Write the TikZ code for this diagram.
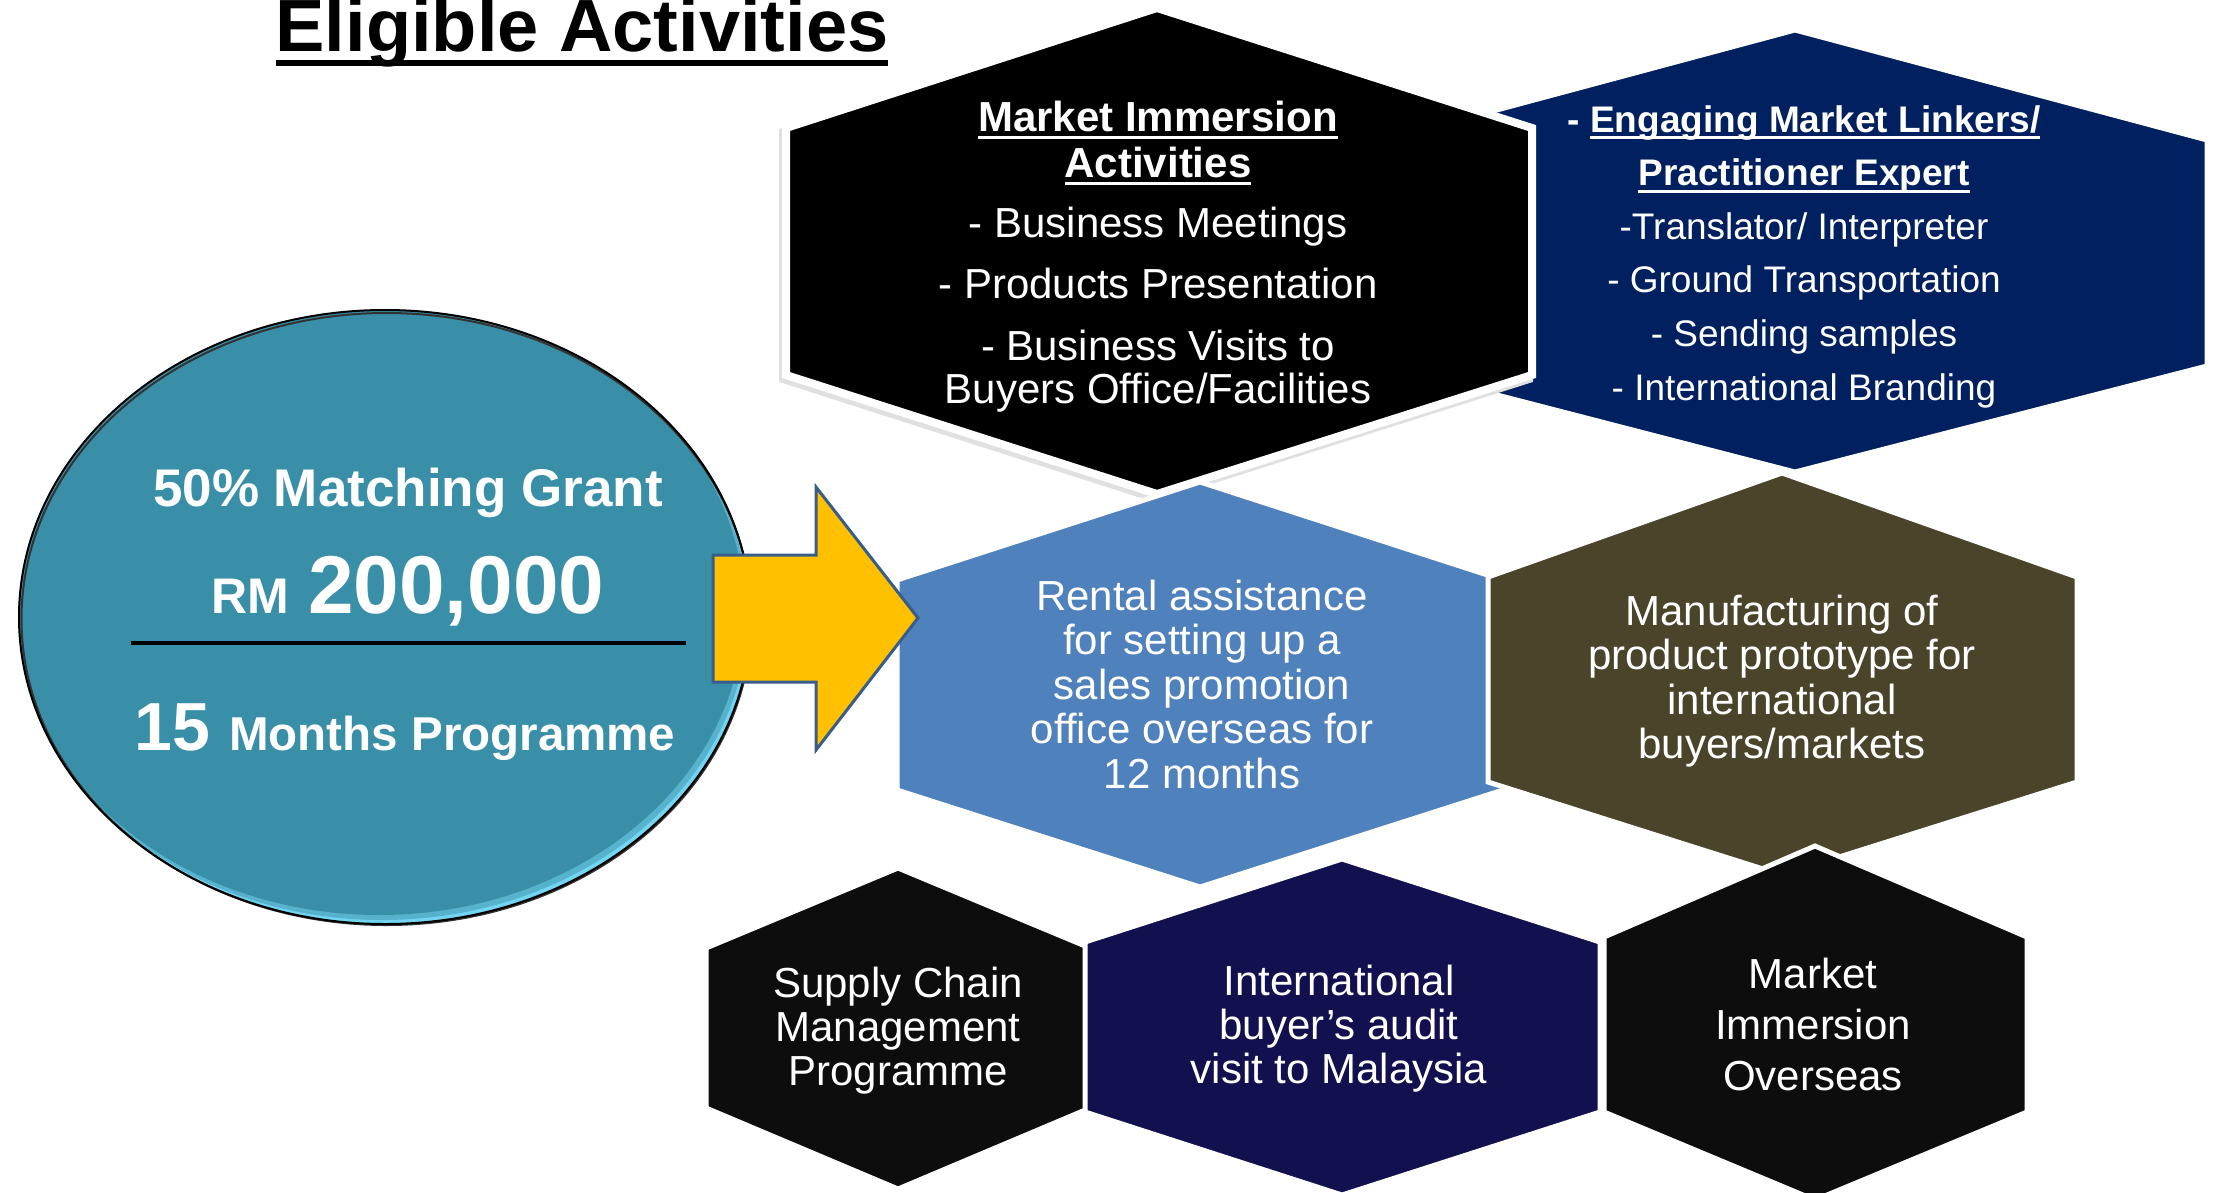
\documentclass[tikz,border=0pt]{standalone}
\usepackage{fontspec}
\setmainfont{Liberation Sans}

\definecolor{grantteal}{HTML}{3A8FA8}
\definecolor{grantglow}{HTML}{72D6F2}
\definecolor{linkernavy}{HTML}{002060}
\definecolor{rentalblue}{HTML}{4F81BD}
\definecolor{protoolive}{HTML}{4A452A}
\definecolor{nearblack}{HTML}{0D0D0D}
\definecolor{auditnavy}{HTML}{12104E}
\definecolor{arrowgold}{HTML}{FFC000}
\definecolor{arrowedge}{HTML}{385D8A}

% underline drawn as a rule whose size follows the current font
\newcommand\ulin[1]{\setbox0\hbox{#1}\rlap{\rule[-0.2em]{\wd0}{0.08em}}\box0}

% a column of centred lines, one node per line, given first baseline and step
\newcommand\stacklines[6]{%
  \foreach \tline [count=\k from 0] in {#6}{%
    \node[hextext,#2] (#1-\k) at (#3,{#4+\k*#5}) {\tline};}}

\tikzset{
  hexface/.style={draw=white, line width=5pt, line join=miter},
  hextext/.style={text=white, inner sep=0pt, anchor=base,
                  font=\fontsize{42}{44}\selectfont},
  granttext/.style={text=white, inner sep=0pt, anchor=base, font=\bfseries},
}

\begin{document}
\begin{tikzpicture}[x=1pt, y=-1pt]
\useasboundingbox (0,0) rectangle (2215,1192);
\fill[white] (0,0) rectangle (2215,1192);

% title
\node[anchor=base, inner sep=0pt, font=\bfseries\fontsize{74}{80}\selectfont]
  (title) at (582,51) {\ulin{Eligible Activities}};

% grant ellipse with a soft glow along the lower right rim
\begin{scope}
  \clip (385,617) ellipse [x radius=366, y radius=307];
  \fill[grantglow] (385,617) ellipse [x radius=366, y radius=307];
  \fill[grantglow!50!grantteal] (382,613) ellipse [x radius=366, y radius=307];
  \fill[grantteal] (379,609) ellipse [x radius=365, y radius=306];
\end{scope}
\draw[black!80, line width=2pt, xshift=1.5pt, yshift=-2pt]
  (385,617) ellipse [x radius=365, y radius=306];
\draw[line width=2pt] (385,617) ellipse [x radius=366, y radius=307];

\node[granttext, font=\bfseries\fontsize{53}{60}\selectfont] (grant) at (408,506)
  {50\% Matching Grant};
\node[granttext] (amount) at (408,613)
  {\fontsize{50}{60}\selectfont RM\hspace{19pt}\fontsize{82}{90}\selectfont 200,000};
\coordinate (divL) at (131,643);
\coordinate (divR) at (686,643);
\draw[line width=4pt] (divL) -- (divR);
\node[granttext] (duration) at (405,750)
  {\fontsize{68}{70}\selectfont 15\hspace{19pt}\fontsize{47.5}{50}\selectfont Months Programme};

% market linkers hexagon (back)
\filldraw[hexface, fill=linkernavy]
  (1795,30) -- (2207,140) -- (2207,366) -- (1795,472) -- (1385,366) -- (1385,140) -- cycle;

% market immersion hexagon with soft shadow
\filldraw[black!12, line width=8pt, line join=miter, xshift=-3pt, yshift=-4pt]
  (1157,8) -- (1532,128) -- (1532,375) -- (1157,494) -- (786,375) -- (786,128) -- cycle;
\filldraw[hexface, line width=8pt, fill=black]
  (1157,8) -- (1532,128) -- (1532,375) -- (1157,494) -- (786,375) -- (786,128) -- cycle;

% rental assistance hexagon
\filldraw[hexface, fill=rentalblue]
  (1200,482) -- (1503,580) -- (1503,790) -- (1200,887) -- (897,790) -- (897,580) -- cycle;

% prototype hexagon
\filldraw[hexface, fill=protoolive]
  (1782,473) -- (2077,577) -- (2077,782) -- (1782,875) -- (1488,782) -- (1488,577) -- cycle;

% bottom row
\filldraw[hexface, fill=nearblack]
  (898,868) -- (1090,948) -- (1090,1108) -- (898,1189) -- (706,1108) -- (706,948) -- cycle;
\filldraw[hexface, fill=auditnavy]
  (1342,859) -- (1600,942) -- (1600,1112) -- (1342,1195) -- (1085,1112) -- (1085,942) -- cycle;
\filldraw[hexface, fill=nearblack]
  (1815,846) -- (2027,937) -- (2027,1112) -- (1815,1200) -- (1604,1112) -- (1604,937) -- cycle;

% block arrow from the grant to the activities
\filldraw[fill=arrowgold, draw=arrowedge, line width=3pt, line join=miter]
  (713,555) -- (816,555) -- (816,487) -- (918,618) -- (816,750) -- (816,682) -- (713,682) -- cycle;

% hexagon texts
\stacklines{mia}{}{1158}{131}{46}{{\bfseries\ulin{Market Immersion}},{\bfseries\ulin{Activities}}}
\stacklines{mib}{}{1158}{237}{61.5}{- Business Meetings,- Products Presentation,- Business Visits to}
\node[hextext] (mib-3) at (1158,403) {Buyers Office/Facilities};

\stacklines{eml}{font=\fontsize{37}{40}\selectfont}{1804}{132}{53.6}{%
  {\bfseries - \ulin{Engaging Market Linkers/}},{\bfseries\ulin{Practitioner Expert}},%
  -Translator/ Interpreter,- Ground Transportation,- Sending samples,- International Branding}

\stacklines{rent}{}{1202}{610}{44.5}{Rental assistance,for setting up a,sales promotion,office overseas for,12 months}
\stacklines{proto}{}{1782}{625}{44.5}{Manufacturing of,product prototype for,international,buyers/markets}
\stacklines{scm}{}{898}{997}{44}{Supply Chain,Management,Programme}
\stacklines{audit}{}{1339}{995}{44}{International,buyer’s audit,visit to Malaysia}
\stacklines{mio}{}{1813}{988}{51}{Market,Immersion,Overseas}
\end{tikzpicture}
\end{document}
